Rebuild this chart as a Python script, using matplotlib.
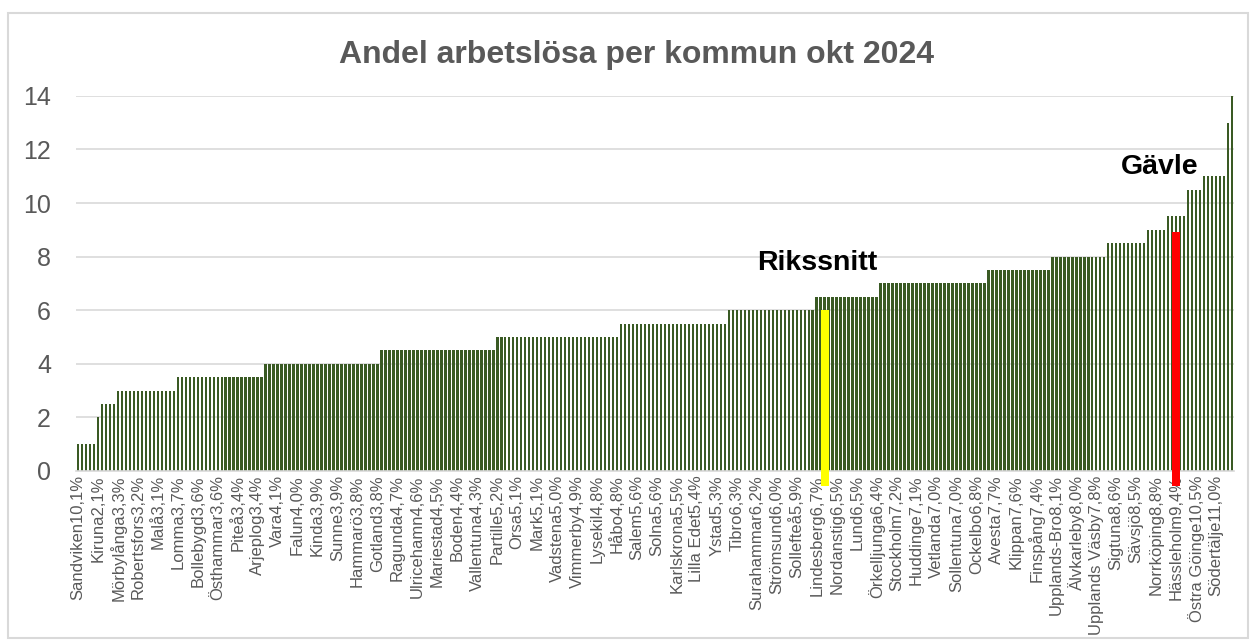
import numpy as np
import matplotlib
matplotlib.use("Agg")
import matplotlib.pyplot as plt
from matplotlib.patches import Rectangle

plt.rcParams['font.family'] = ['Liberation Sans', 'DejaVu Sans']

# 290 kommuner, bar heights (left to right)
andel = [
    1.0, 1.0, 1.0, 1.0, 1.0,
    2.0,
    2.5, 2.5, 2.5, 2.5,
    3.0, 3.0, 3.0, 3.0, 3.0, 3.0, 3.0, 3.0, 3.0, 3.0, 3.0, 3.0, 3.0, 3.0, 3.0,
    3.5, 3.5, 3.5, 3.5, 3.5, 3.5, 3.5, 3.5, 3.5, 3.5, 3.5, 3.5, 3.5, 3.5, 3.5,
    3.5, 3.5, 3.5, 3.5, 3.5, 3.5, 3.5,
    4.0, 4.0, 4.0, 4.0, 4.0, 4.0, 4.0, 4.0, 4.0, 4.0, 4.0, 4.0, 4.0, 4.0, 4.0,
    4.0, 4.0, 4.0, 4.0, 4.0, 4.0, 4.0, 4.0, 4.0, 4.0, 4.0, 4.0, 4.0, 4.0,
    4.5, 4.5, 4.5, 4.5, 4.5, 4.5, 4.5, 4.5, 4.5, 4.5, 4.5, 4.5, 4.5, 4.5, 4.5,
    4.5, 4.5, 4.5, 4.5, 4.5, 4.5, 4.5, 4.5, 4.5, 4.5, 4.5, 4.5, 4.5, 4.5,
    5.0, 5.0, 5.0, 5.0, 5.0, 5.0, 5.0, 5.0, 5.0, 5.0, 5.0, 5.0, 5.0, 5.0, 5.0,
    5.0, 5.0, 5.0, 5.0, 5.0, 5.0, 5.0, 5.0, 5.0, 5.0, 5.0, 5.0, 5.0, 5.0, 5.0,
    5.0,
    5.5, 5.5, 5.5, 5.5, 5.5, 5.5, 5.5, 5.5, 5.5, 5.5, 5.5, 5.5, 5.5, 5.5, 5.5,
    5.5, 5.5, 5.5, 5.5, 5.5, 5.5, 5.5, 5.5, 5.5, 5.5, 5.5, 5.5,
    6.0, 6.0, 6.0, 6.0, 6.0, 6.0, 6.0, 6.0, 6.0, 6.0, 6.0, 6.0, 6.0, 6.0, 6.0,
    6.0, 6.0, 6.0, 6.0, 6.0, 6.0, 6.0,
    6.5, 6.5, 6.5, 6.5, 6.5, 6.5, 6.5, 6.5, 6.5, 6.5, 6.5, 6.5, 6.5, 6.5, 6.5,
    6.5,
    7.0, 7.0, 7.0, 7.0, 7.0, 7.0, 7.0, 7.0, 7.0, 7.0, 7.0, 7.0, 7.0, 7.0, 7.0,
    7.0, 7.0, 7.0, 7.0, 7.0, 7.0, 7.0, 7.0, 7.0, 7.0, 7.0, 7.0,
    7.5, 7.5, 7.5, 7.5, 7.5, 7.5, 7.5, 7.5, 7.5, 7.5, 7.5, 7.5, 7.5, 7.5, 7.5,
    7.5,
    8.0, 8.0, 8.0, 8.0, 8.0, 8.0, 8.0, 8.0, 8.0, 8.0, 8.0, 8.0, 8.0, 8.0,
    8.5, 8.5, 8.5, 8.5, 8.5, 8.5, 8.5, 8.5, 8.5, 8.5,
    9.0, 9.0, 9.0, 9.0, 9.0,
    9.5, 9.5, 9.5, 9.5, 9.5,
    10.5, 10.5, 10.5, 10.5,
    11.0, 11.0, 11.0, 11.0, 11.0, 11.0,
    13.0,
    14.0,
]

# only every 5th category label is printed on the axis
etiketter = [
    "Sandviken10,1%", "Kiruna2,1%", "Mörbylånga3,3%", "Robertsfors3,2%",
    "Malå3,1%", "Lomma3,7%", "Bollebygd3,6%", "Östhammar3,6%", "Piteå3,4%",
    "Arjeplog3,4%", "Vara4,1%", "Falun4,0%", "Kinda3,9%", "Sunne3,9%",
    "Hammarö3,8%", "Gotland3,8%", "Ragunda4,7%", "Ulricehamn4,6%",
    "Mariestad4,5%", "Boden4,4%", "Vallentuna4,3%", "Partille5,2%",
    "Orsa5,1%", "Mark5,1%", "Vadstena5,0%", "Vimmerby4,9%", "Lysekil4,8%",
    "Håbo4,8%", "Salem5,6%", "Solna5,6%", "Karlskrona5,5%", "Lilla Edet5,4%",
    "Ystad5,3%", "Tibro6,3%", "Surahammar6,2%", "Strömsund6,0%",
    "Sollefteå5,9%", "Lindesberg6,7%", "Nordanstig6,5%", "Lund6,5%",
    "Örkelljunga6,4%", "Stockholm7,2%", "Huddinge7,1%", "Vetlanda7,0%",
    "Sollentuna7,0%", "Ockelbo6,8%", "Avesta7,7%", "Klippan7,6%",
    "Finspång7,4%", "Upplands-Bro8,1%", "Älvkarleby8,0%",
    "Upplands Väsby7,8%", "Sigtuna8,6%", "Sävsjö8,5%", "Norrköping8,8%",
    "Hässleholm9,4%", "Östra Göinge10,5%", "Södertälje11,0%",
]

# highlighted bars: index in the row and height
rikssnitt_pos, rikssnitt_varde = 187, 6.0
gavle_pos, gavle_varde = 275, 8.9

fig = plt.figure(figsize=(12.56, 6.43), dpi=100)
fig.patches.append(Rectangle((0.006, 0.008), 0.988, 0.972, transform=fig.transFigure,
                             fill=False, edgecolor='#d9d9d9', linewidth=1.5))
ax = fig.add_axes([0.0605, 0.2675, 0.922, 0.5835])

x = np.arange(len(andel))
ax.bar(x, andel, width=0.62, color='#3a5a24', zorder=2)

# highlight bars reach a little below the axis line
ax.bar(rikssnitt_pos, rikssnitt_varde + 0.55, bottom=-0.55, width=2.0,
       color='#ffff00', zorder=3, clip_on=False)
ax.bar(gavle_pos, gavle_varde + 0.55, bottom=-0.55, width=2.0,
       color='#ff0000', zorder=3, clip_on=False)

ax.text(185.2, 7.75, "Rikssnitt", fontsize=20.5, fontweight='bold',
        ha='center', va='center', color='black', zorder=4)
ax.text(270.9, 11.35, "Gävle", fontsize=20.5, fontweight='bold',
        ha='center', va='center', color='black', zorder=4)

ax.set_xlim(-0.5, len(andel) - 0.5)
ax.set_ylim(0, 14)
ax.set_yticks(np.arange(0, 15, 2))
ax.set_xticks(x[::5])
ax.set_xticklabels(etiketter, rotation=90, fontsize=12, color='#595959')
ax.tick_params(axis='x', length=0, pad=3)
ax.tick_params(axis='y', length=0, pad=18, labelsize=18, labelcolor='#595959')
ax.yaxis.grid(True, color='#d9d9d9', linewidth=1.2, zorder=0)
ax.set_axisbelow(True)
for s in ['top', 'right', 'left']:
    ax.spines[s].set_visible(False)
ax.spines['bottom'].set_color('#d9d9d9')
ax.spines['bottom'].set_linewidth(1.2)

fig.text(0.5065, 0.915, "Andel arbetslösa per kommun okt 2024", fontsize=23,
         fontweight='bold', color='#595959', ha='center', va='center')

fig.savefig("out.png", dpi=100)
